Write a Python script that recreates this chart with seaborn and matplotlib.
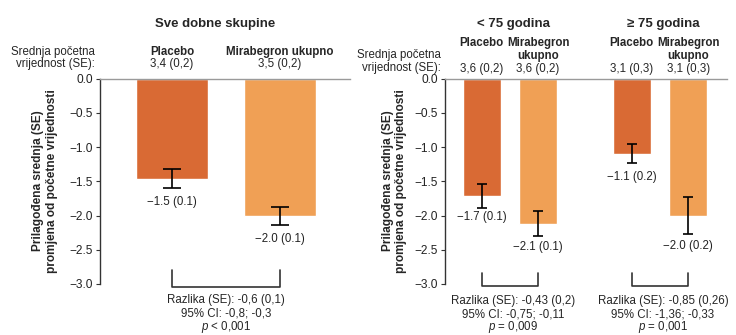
import numpy as np
import pandas as pd
import seaborn as sns
import matplotlib.pyplot as plt
import matplotlib.ticker as mticker
from matplotlib.transforms import blended_transform_factory

# --- data ---
treatments = ["Placebo", "Mirabegron ukupno"]
bar_colors = ["#D96A34", "#F0A055"]

all_group = "Sve dobne skupine"
all_mean = [-1.46, -2.01]
all_err = [0.135, 0.13]
all_labels = ["\u22121.5 (0.1)", "\u22122.0 (0.1)"]
all_baseline = ["3,4 (0,2)", "3,5 (0,2)"]
all_stats = ["Razlika (SE): -0,6 (0,1)", "95% CI: -0,8; -0,3", "$p$ < 0,001"]

age_groups = ["< 75 godina", "\u2265 75 godina"]
# order: <75 placebo, <75 mirabegron, >=75 placebo, >=75 mirabegron
age_mean = [-1.72, -2.12, -1.10, -2.00]
age_err = [0.175, 0.185, 0.14, 0.27]
age_labels = ["\u22121.7 (0.1)", "\u22122.1 (0.1)", "\u22121.1 (0.2)", "\u22122.0 (0.2)"]
age_baseline = ["3,6 (0,2)", "3,6 (0,2)", "3,1 (0,3)", "3,1 (0,3)"]
age_stats = [
    ["Razlika (SE): -0,43 (0,2)", "95% CI: -0,75; -0,11", "$p$ = 0,009"],
    ["Razlika (SE): -0,85 (0,26)", "95% CI: -1,36; -0,33", "$p$ = 0,001"],
]

ylabel = "Prilagođena srednja (SE)\npromjena od početne vrijednosti"
baseline_title = ["Srednja početna", "vrijednost (SE):"]

# --- style ---
sns.set_style("white")
plt.rcParams["font.family"] = ["Liberation Sans", "DejaVu Sans"]
plt.rcParams["mathtext.fontset"] = "custom"
plt.rcParams["mathtext.it"] = "Liberation Sans:italic"
plt.rcParams["mathtext.rm"] = "Liberation Sans"

W, H = 736, 335
fig = plt.figure(figsize=(W / 100, H / 100), dpi=100)
FS = 8.3


def fy(py):
    return 1 - py / H


def setup_axes(ax, xlim):
    ax.set_ylim(-3, 0)
    ax.set_xlim(*xlim)
    ax.set_xlabel("")
    ax.set_ylabel("")
    for s in ["right", "bottom"]:
        ax.spines[s].set_visible(False)
    ax.spines["left"].set_color("#333333")
    ax.spines["left"].set_linewidth(1.0)
    ax.spines["top"].set_color("#9a9a9a")
    ax.spines["top"].set_linewidth(1.0)
    ax.set_yticks(np.arange(-3, 0.01, 0.5))
    ax.yaxis.set_major_formatter(mticker.FuncFormatter(
        lambda v, p: f"{v:.1f}".replace("-", "\u2212")))
    ax.tick_params(axis="y", left=True, length=3, width=0.8, color="#333333",
                   labelsize=8.6, pad=2, labelcolor="#222222")
    ax.xaxis.tick_top()
    ax.tick_params(axis="x", direction="in", length=2.5, width=1, color="#111111",
                   labeltop=False, labelbottom=False)


def bar_centers(ax):
    return sorted(p.get_x() + p.get_width() / 2 for p in ax.patches)


def lines_at(x, y0, step, lines, trans, **kw):
    for i, line in enumerate(lines):
        fig.text(x, fy(y0 + i * step), line, transform=trans, ha="center",
                 va="center", fontsize=FS, **kw)


# ---------- left panel ----------
ax1 = fig.add_axes([100 / W, 1 - 284 / H, 250 / W, 205.5 / H])
df_all = pd.DataFrame({"grupa": [all_group] * 2, "lijecenje": treatments,
                       "promjena": all_mean})
sns.barplot(data=df_all, x="grupa", y="promjena", hue="lijecenje",
            palette=bar_colors, width=0.8, gap=0.333, saturation=1,
            errorbar=None, legend=False, ax=ax1)
setup_axes(ax1, (-0.467, 0.459))
c1 = bar_centers(ax1)
ax1.set_xticks(c1)
ax1.errorbar(c1, all_mean, yerr=all_err, fmt="none", ecolor="black",
             elinewidth=1.2, capsize=6.5, capthick=1.2)
for cx, m, e, lab in zip(c1, all_mean, all_err, all_labels):
    ax1.annotate(lab, (cx, m - e), xytext=(0, -10.3), textcoords="offset points",
                 ha="center", va="center", fontsize=FS, color="#222222")
ax1.plot([c1[0], c1[0], c1[1], c1[1]], [-2.8, -3.04, -3.04, -2.8],
         color="#333333", lw=1.2, clip_on=False)

tr1 = blended_transform_factory(ax1.transData, fig.transFigure)
fig.text(np.mean(c1) - 0.04, fy(24), all_group, transform=tr1, ha="center",
         va="center", fontsize=9.5, fontweight="bold")
for cx, name, base in zip(c1, treatments, all_baseline):
    fig.text(cx, fy(52), name, transform=tr1, ha="center", va="center",
             fontsize=FS, fontweight="bold")
    fig.text(cx, fy(64), base, transform=tr1, ha="center", va="center", fontsize=FS)
for i, line in enumerate(baseline_title):
    fig.text(95 / W, fy(52 + i * 12), line, ha="right", va="center", fontsize=FS)
lines_at(np.mean(c1), 300.5, 13.2, all_stats, tr1)
fig.text(45 / W, fy(181), ylabel, rotation=90, ha="center", va="center",
         fontsize=8.6, fontweight="bold", linespacing=1.15, multialignment="center")

# ---------- right panel ----------
ax2 = fig.add_axes([445 / W, 1 - 284 / H, 282 / W, 205.5 / H])
df_age = pd.DataFrame({
    "grupa": [g for g in age_groups for _ in treatments],
    "lijecenje": treatments * len(age_groups),
    "promjena": age_mean,
})
sns.barplot(data=df_age, x="grupa", y="promjena", hue="lijecenje",
            palette=bar_colors, width=0.75, gap=0.33, saturation=1,
            errorbar=None, legend=False, ax=ax2)
setup_axes(ax2, (-0.433, 1.447))
c2 = bar_centers(ax2)
ax2.set_xticks(c2)
ax2.errorbar(c2, age_mean, yerr=age_err, fmt="none", ecolor="black",
             elinewidth=1.2, capsize=3.6, capthick=1.2)
label_gap = [6.6, 7.7, 9.6, 8.6]
for cx, m, e, lab, g in zip(c2, age_mean, age_err, age_labels, label_gap):
    ax2.annotate(lab, (cx, m - e), xytext=(0, -g), textcoords="offset points",
                 ha="center", va="center", fontsize=FS, color="#222222")

tr2 = blended_transform_factory(ax2.transData, fig.transFigure)
for k, grp in enumerate(age_groups):
    a, b = c2[2 * k], c2[2 * k + 1]
    ax2.plot([a, a, b, b], [-2.84, -3.03, -3.03, -2.84],
             color="#333333", lw=1.2, clip_on=False)
    mid = (a + b) / 2
    fig.text(mid + 0.025, fy(24), grp, transform=tr2, ha="center", va="center",
             fontsize=9.5, fontweight="bold")
    lines_at(mid + 0.02, 301, 13.2, age_stats[k], tr2)
    fig.text(a, fy(43), "Placebo", transform=tr2, ha="center", va="center",
             fontsize=FS, fontweight="bold")
    fig.text(b, fy(43), "Mirabegron", transform=tr2, ha="center", va="center",
             fontsize=FS, fontweight="bold")
    fig.text(b, fy(56), "ukupno", transform=tr2, ha="center", va="center",
             fontsize=FS, fontweight="bold")
for cx, base in zip(c2, age_baseline):
    fig.text(cx, fy(69), base, transform=tr2, ha="center", va="center", fontsize=FS)
for i, line in enumerate(baseline_title):
    fig.text(441 / W, fy(55 + i * 13), line, ha="right", va="center", fontsize=FS)
fig.text(394.5 / W, fy(181), ylabel, rotation=90, ha="center", va="center",
         fontsize=8.6, fontweight="bold", linespacing=1.15, multialignment="center")

fig.savefig("out.png", dpi=100)
